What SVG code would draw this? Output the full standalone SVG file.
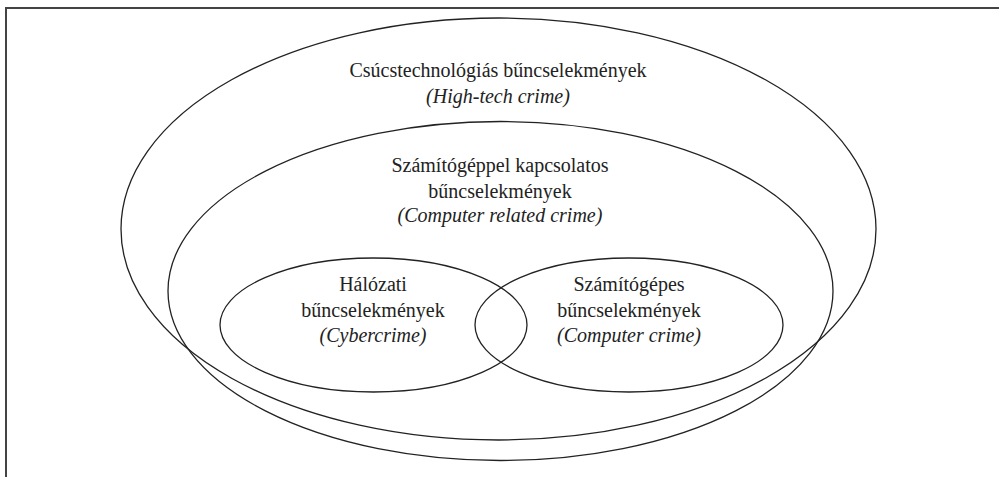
<svg xmlns="http://www.w3.org/2000/svg" width="999" height="477" viewBox="0 0 999 477">
<style>
.e{fill:none;stroke:#222;stroke-width:1.3}
.t{font-family:'Liberation Serif','Times New Roman',serif;font-size:20px;fill:#222;text-anchor:middle}
.i{font-style:italic}
.b{fill:none;stroke:#444;stroke-width:2}
</style>
<rect width="999" height="477" fill="#fff"/>
<path class="b" d="M6,477 V8 H999"/>
<g id="high-tech">
<ellipse class="e" cx="498.5" cy="229" rx="377.5" ry="211"/>
<text class="t" x="498" y="77">Csúcstechnológiás bűncselekmények</text>
<text class="t i" x="498" y="103">(High-tech crime)</text>
</g>
<g id="computer-related">
<ellipse class="e" cx="500.5" cy="291" rx="332.5" ry="169.5"/>
<text class="t" x="500" y="172">Számítógéppel kapcsolatos</text>
<text class="t" x="500" y="198">bűncselekmények</text>
<text class="t i" x="500" y="222">(Computer related crime)</text>
</g>
<g id="cybercrime">
<ellipse class="e" cx="373.5" cy="325" rx="153.5" ry="67"/>
<text class="t" x="373" y="291">Hálózati</text>
<text class="t" x="373" y="317">bűncselekmények</text>
<text class="t i" x="373" y="342">(Cybercrime)</text>
</g>
<g id="computer-crime">
<ellipse class="e" cx="629" cy="325" rx="154" ry="67"/>
<text class="t" x="629" y="291">Számítógépes</text>
<text class="t" x="629" y="317">bűncselekmények</text>
<text class="t i" x="629" y="342">(Computer crime)</text>
</g>
<g id="connectors"></g>
</svg>
